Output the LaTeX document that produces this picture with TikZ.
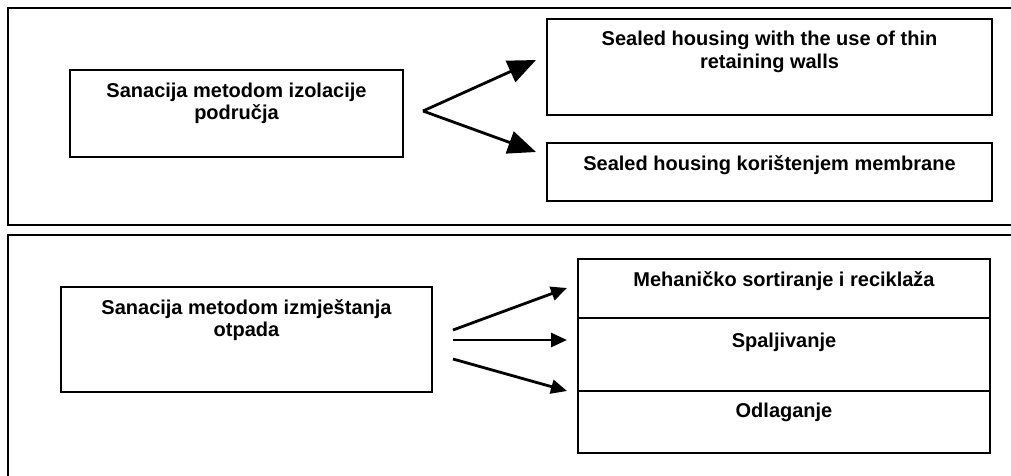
\documentclass[tikz,border=0pt]{standalone}
\usepackage{fontspec}
\setmainfont{Liberation Sans}
\usetikzlibrary{arrows.meta,positioning}

\begin{document}
\begin{tikzpicture}[x=1pt,y=-1pt,
	panel/.style={draw, line width=2.8pt},
	box/.style={draw, line width=1.8pt, rectangle, inner sep=0pt},
	txt/.style={font=\fontsize{20}{22.5}\selectfont\bfseries, align=center, inner sep=0pt, anchor=north},
	bigarr/.style={line width=2.8pt, -{Triangle[length=28pt,width=23pt]}},
	smallarr/.style={line width=2.8pt, -{Triangle[length=16pt,width=14pt]}}]
	\useasboundingbox (0,0) rectangle (1011,475);
	\clip (0,0) rectangle (1011,475);

	% panels
	\draw[panel] (8,8) rectangle (1030,225);
	\draw[panel] (8,235) rectangle (1030,500);

	% izolacija
	\node[box, minimum width=333pt, minimum height=87pt] (iso) at (236.5,113.5) {};
	\node[box, minimum width=445pt, minimum height=96pt] (wall) at (769.5,67) {};
	\node[box, minimum width=445pt, minimum height=58pt] (memb) at (769.5,172) {};
	\node[txt, below=13.5pt of iso.north] (isot) {Sanacija metodom izolacije\\područja};
	\node[txt, below=13pt of wall.north] (wallt) {Sealed housing with the use of thin\\retaining walls};
	\node[txt, below=13pt of memb.north] (membt) {Sealed housing korištenjem membrane};

	\coordinate (split) at (423,111);
	\coordinate (wallin) at (536,60);
	\coordinate (membin) at (536,152);
	\draw[bigarr] (split) -- (wallin);
	\draw[bigarr] (split) -- (membin);

	% izmjestanje
	\node[box, minimum width=371pt, minimum height=105pt] (izm) at (246.5,339.5) {};
	\node[box, minimum width=412pt, minimum height=59pt] (mech) at (784,288.5) {};
	\node[box, minimum width=412pt, minimum height=73pt] (spal) at (784,354.5) {};
	\node[box, minimum width=412pt, minimum height=62pt] (odl) at (784,422) {};
	\node[txt, below=13pt of izm.north] (izmt) {Sanacija metodom izmještanja\\otpada};
	\node[txt, below=13pt of mech.north] (mecht) {Mehaničko sortiranje i reciklaža};
	\node[txt, below=16pt of spal.north] (spalt) {Spaljivanje};
	\node[txt, below=13pt of odl.north] (odlt) {Odlaganje};

	\coordinate (out1) at (453,330);
	\coordinate (out2) at (453,340);
	\coordinate (out3) at (453,359);
	\coordinate (in1) at (567,288);
	\coordinate (in2) at (567,340);
	\coordinate (in3) at (567,391);
	\draw[smallarr] (out1) -- (in1);
	\draw[smallarr] (out2) -- (in2);
	\draw[smallarr] (out3) -- (in3);
\end{tikzpicture}
\end{document}
